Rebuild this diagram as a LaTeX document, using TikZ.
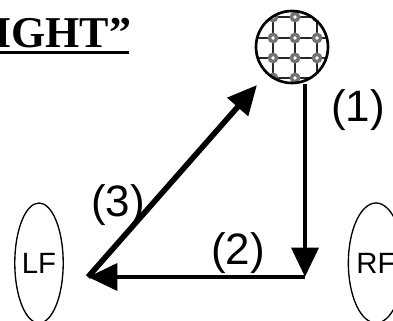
\documentclass[tikz,border=0pt]{standalone}
\usepackage{fontspec}
\setmainfont{Liberation Serif}
\setsansfont{Liberation Sans}
\usetikzlibrary{arrows.meta, shapes.geometric}
\begin{document}
\begin{tikzpicture}[x=0.75pt, y=-0.75pt, >={Triangle[length=22pt, width=20pt]},
    move/.style = {->, line width=3.4pt},
    foot/.style = {draw, ellipse, line width=1pt, minimum width=36pt, minimum height=90pt, inner sep=0pt, font=\sffamily\fontsize{22}{22}\selectfont},
    step label/.style = {font=\sffamily\fontsize{33}{33}\selectfont, inner sep=0pt},
    ball/.style = {draw, circle, line width=2pt, minimum size=54pt, inner sep=0pt}]
    \useasboundingbox (0,0) rectangle (393,321);
    \clip (0,0) rectangle (393,321);

    \node[anchor=base west, inner sep=0pt, font=\bfseries\fontsize{33}{33}\selectfont] (title) at (-6,48) {IGHT”};
    \fill (0,51) rectangle (129,54);

    % ball pattern
    \begin{scope}
        \clip (292,47) circle (36);
        \foreach \x in {251,273,295,317,339} {
            \draw[line width=1.5pt, black!85] (\x,0) -- (\x,100);
        }
        \foreach \y in {-4,17,38,58,78,99} {
            \draw[line width=1.5pt, black!85] (240,\y) -- (340,\y);
        }
        \foreach \x in {251,273,295,317,339} {
            \foreach \y in {-4,17,38,58,78,99} {
                \draw[line width=2.6pt, black!55, fill=white] (\x,\y) circle (3.6);
            }
        }
    \end{scope}
    \node[ball] (ball) at (292,47) {};

    \node[foot] (lf) at (39,263) {LF\hspace{4pt}};
    \node[foot] (rf) at (376,263) {RF\hspace{4pt}};

    \coordinate (turn) at (305,277);
    \coordinate (heel) at (88,277);
    \coordinate (top) at (257,85);

    \path[draw, move] (ball.south -| turn) -- (turn);
    \path[draw, move] (turn) -- (heel);
    \path[draw, move, line width=4.2pt] (heel) -- (top);

    \node[step label] (s1) at (358,110) {(1)};
    \node[step label] (s2) at (238,253) {(2)};
    \node[step label] (s3) at (118,205) {(3)};
\end{tikzpicture}
\end{document}
